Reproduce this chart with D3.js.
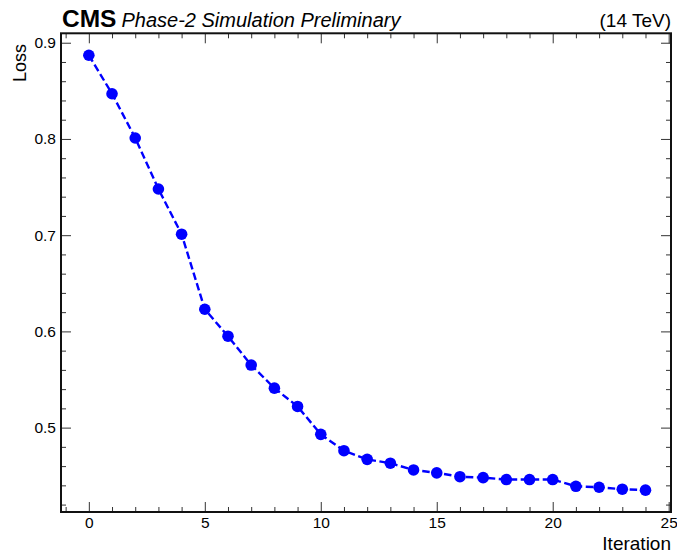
<!DOCTYPE html>
<html>
<head>
<meta charset="utf-8">
<script src="https://cdn.jsdelivr.net/npm/d3@7"></script>
<style>
  body { margin: 0; background: #fff; }
  text { font-family: "Liberation Sans", Arial, Helvetica, sans-serif; }
</style>
</head>
<body>
<div id="chart"></div>
<script>
// data
const iterations = [0, 1, 2, 3, 4, 5, 6, 7, 8, 9, 10, 11, 12, 13, 14, 15, 16, 17, 18, 19, 20, 21, 22, 23, 24];
const loss = [0.887, 0.847, 0.801, 0.748, 0.701, 0.623, 0.595, 0.565, 0.541, 0.522, 0.493, 0.476, 0.467,
  0.463, 0.456, 0.453, 0.449, 0.448, 0.446, 0.446, 0.446, 0.439, 0.438, 0.436, 0.435];

const xTicks = [0, 5, 10, 15, 20, 25];
const yTicks = [0.5, 0.6, 0.7, 0.8, 0.9];
const xMinor = d3.range(-1, 26, 1).filter(v => !xTicks.includes(v));
const yMinor = d3.range(42, 92, 2).map(v => v / 100).filter(v => !yTicks.some(t => Math.abs(t - v) < 1e-9));

const W = 677, H = 553;
const frame = { left: 61, right: 671, top: 33.3, bottom: 512 };

const svg = d3.select("#chart")
  .append("svg")
  .attr("width", W)
  .attr("height", H);

const x = d3.scaleLinear().domain([-1.2, 25.1]).range([frame.left, frame.right]);
const y = d3.scaleLinear().domain([0.4123, 0.9098]).range([frame.bottom, frame.top]);

// ticks, all pointing inwards, mirrored on top/right
function styleAxis(g) {
  g.select(".domain").remove();
  g.selectAll(".tick line").attr("stroke", "#333").attr("stroke-width", 1);
  g.selectAll(".tick text").attr("fill", "#000").style("font-size", "15.5px");
}

svg.append("g")
  .attr("transform", `translate(0,${frame.bottom})`)
  .call(d3.axisBottom(x).tickValues(xTicks).tickSize(-10).tickPadding(5).tickFormat(d3.format("d")))
  .call(styleAxis);
svg.append("g")
  .attr("transform", `translate(0,${frame.bottom})`)
  .call(d3.axisBottom(x).tickValues(xMinor).tickSize(-5).tickFormat(""))
  .call(styleAxis);
svg.append("g")
  .attr("transform", `translate(0,${frame.top})`)
  .call(d3.axisTop(x).tickValues(xTicks).tickSize(-10).tickFormat(""))
  .call(styleAxis);
svg.append("g")
  .attr("transform", `translate(0,${frame.top})`)
  .call(d3.axisTop(x).tickValues(xMinor).tickSize(-5).tickFormat(""))
  .call(styleAxis);

svg.append("g")
  .attr("transform", `translate(${frame.left},0)`)
  .call(d3.axisLeft(y).tickValues(yTicks).tickSize(-10).tickPadding(5).tickFormat(d3.format(".1f")))
  .call(styleAxis);
svg.append("g")
  .attr("transform", `translate(${frame.left},0)`)
  .call(d3.axisLeft(y).tickValues(yMinor).tickSize(-5).tickFormat(""))
  .call(styleAxis);
svg.append("g")
  .attr("transform", `translate(${frame.right},0)`)
  .call(d3.axisRight(y).tickValues(yTicks).tickSize(-10).tickFormat(""))
  .call(styleAxis);
svg.append("g")
  .attr("transform", `translate(${frame.right},0)`)
  .call(d3.axisRight(y).tickValues(yMinor).tickSize(-5).tickFormat(""))
  .call(styleAxis);

// frame
svg.append("rect")
  .attr("x", frame.left)
  .attr("y", frame.top)
  .attr("width", frame.right - frame.left)
  .attr("height", frame.bottom - frame.top)
  .attr("fill", "none")
  .attr("stroke", "#111")
  .attr("stroke-width", 2);

// dashed line + markers
const pts = iterations.map((it, i) => ({ it, v: loss[i] }));
const line = d3.line().x(d => x(d.it)).y(d => y(d.v));

svg.append("path")
  .datum(pts)
  .attr("d", line)
  .attr("fill", "none")
  .attr("stroke", "#0000ff")
  .attr("stroke-width", 2.4)
  .attr("stroke-dasharray", "7.5,3.5");

svg.selectAll("circle.pt")
  .data(pts)
  .join("circle")
  .attr("class", "pt")
  .attr("cx", d => x(d.it))
  .attr("cy", d => y(d.v))
  .attr("r", 5.8)
  .attr("fill", "#0000ff");

// labels
svg.append("text")
  .attr("x", frame.right)
  .attr("y", 550)
  .attr("text-anchor", "end")
  .style("font-size", "19px")
  .text("Iteration");

svg.append("text")
  .attr("transform", "translate(26,44) rotate(-90)")
  .attr("text-anchor", "end")
  .style("font-size", "18px")
  .text("Loss");

// CMS header
const head = svg.append("text")
  .attr("x", 62)
  .attr("y", 27);
head.append("tspan")
  .style("font-weight", "bold")
  .style("font-size", "24.5px")
  .text("CMS");
head.append("tspan")
  .attr("dx", 5)
  .style("font-style", "italic")
  .style("font-size", "20px")
  .text("Phase-2 Simulation Preliminary");

svg.append("text")
  .attr("x", frame.right)
  .attr("y", 27)
  .attr("text-anchor", "end")
  .style("font-size", "19px")
  .text("(14 TeV)");
</script>
</body>
</html>
